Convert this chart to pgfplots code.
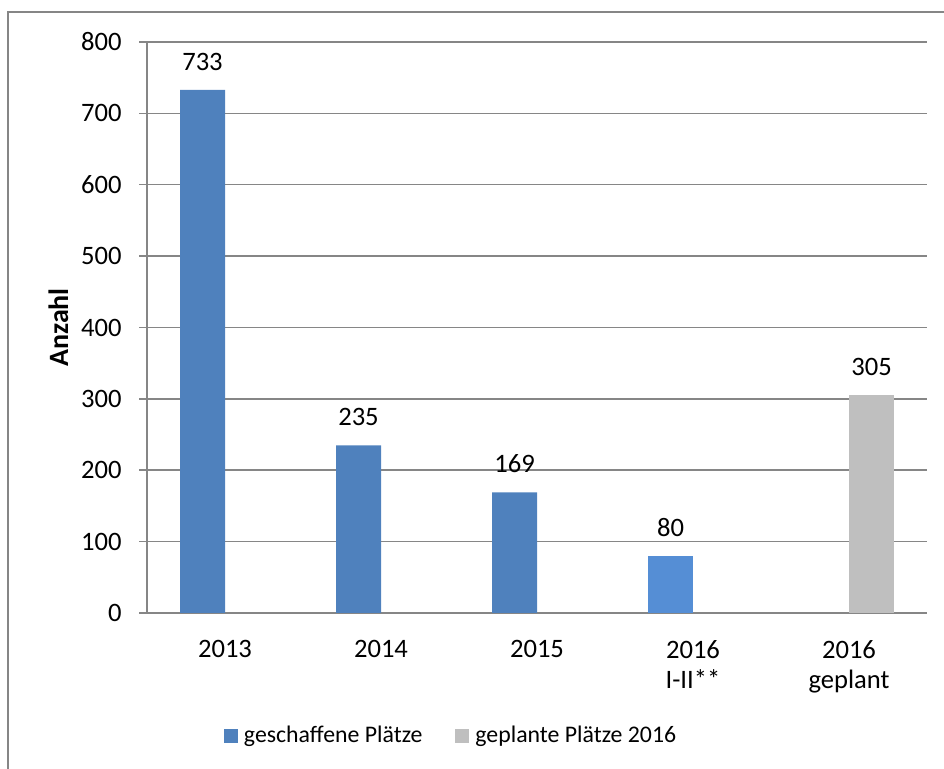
\documentclass[border=0pt]{standalone}
\usepackage{fontspec}
\setmainfont{Carlito}
\usepackage{pgfplots}
\pgfplotsset{compat=1.18}
\definecolor{barblue}{HTML}{4F81BD}
\definecolor{barlight}{HTML}{558ED5}
\definecolor{bargray}{HTML}{BFBFBF}
\definecolor{gridgray}{HTML}{868686}
\newcommand\cf{\fontsize{13.3}{15}\selectfont}
\newcommand\lf{\fontsize{11.9}{14}\selectfont}
\newcommand\yf{\fontsize{14}{16}\selectfont}
\begin{document}
\begin{tikzpicture}
\useasboundingbox (0,0) rectangle (472pt,-384.5pt);
\draw[gridgray, line width=0.6pt] (4pt,-420pt) -- (4pt,-6pt) -- (500pt,-6pt);
\begin{axis}[
  scale only axis, width=390pt, height=285.5pt,
  at={(73.5pt,-306.5pt)}, anchor=south west,
  xmin=-0.5, xmax=4.5, ymin=0, ymax=800,
  ytick={0,100,...,800}, xtick={0,1,2,3,4},
  xticklabels={2013,2014,2015,{2016\\I-II**},{2016\\geplant}},
  /pgf/number format/assume math mode=true,
  tick label style={font=\cf, text=black},
  xticklabel style={align=center, anchor=north, inner sep=0pt, yshift=-9.5pt},
  yticklabel style={anchor=east, inner sep=0pt, xshift=-8.5pt},
  ymajorgrids, grid style={gridgray, line width=0.75pt},
  axis lines*=left,
  axis line style={gridgray, line width=0.75pt},
  major tick length=4pt, tick align=outside,
  xtick style={draw=none}, ytick style={gridgray, line width=0.75pt},
  ybar, bar width=22.5pt,
  nodes near coords,
  nodes near coords style={font=\cf, anchor=south, inner sep=0pt, yshift=9.5pt, text=black},
  ylabel={\textbf{Anzahl}},
  ylabel style={font=\yf, at={(axis description cs:-0.1135,0.5)}, anchor=center, inner sep=0pt},
  legend columns=2,
  legend image code/.code={\fill[#1] (0pt,0pt) rectangle (7pt,7pt);},
  legend style={at={(axis description cs:0.0987,-0.2154)}, anchor=west,
    draw=none, fill=none, inner sep=0pt, outer sep=0pt, font=\lf,
    column sep=0pt,
    nodes={inner sep=0pt},
    cells={anchor=base west},
    /tikz/every odd column/.append style={column sep=3pt},
    /tikz/every even column/.append style={column sep=16.5pt}},
]
\addplot[fill=barblue, draw=none, bar shift=-11.25pt] coordinates {(0,733) (1,235) (2,169)};
\addlegendentry{geschaffene Plätze}
\addplot[fill=barlight, draw=none, bar shift=-11.25pt, forget plot] coordinates {(3,80)};
\addplot[fill=bargray, draw=none, bar shift=11.25pt] coordinates {(4,305)};
\addlegendentry{geplante Plätze 2016}
\end{axis}
\end{tikzpicture}
\end{document}
